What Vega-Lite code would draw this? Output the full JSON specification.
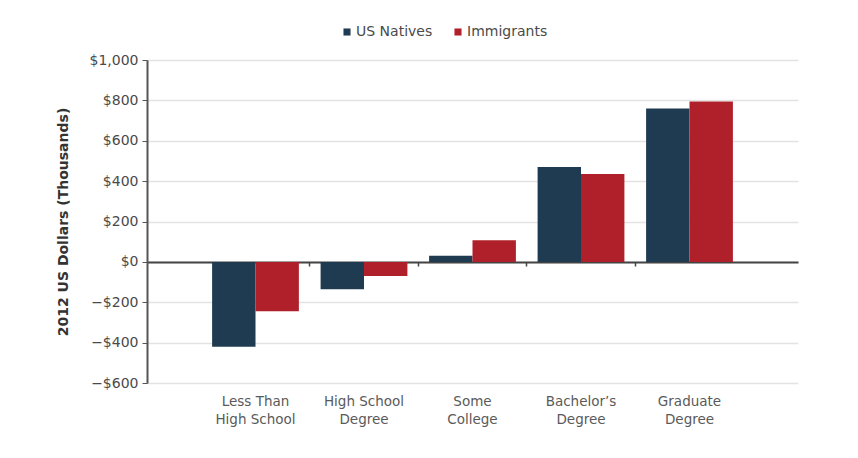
{
  "$schema": "https://vega.github.io/schema/vega-lite/v6.json",
  "autosize": {"type": "none"},
  "width": 651,
  "height": 323,
  "padding": {"left": 147, "top": 60, "right": 60, "bottom": 75},
  "config": {
    "font": "DejaVu Sans",
    "view": {"stroke": null}
  },
  "data": {
    "values": [
      {"education": "Less Than\nHigh School", "group": "US Natives", "value": -420},
      {"education": "Less Than\nHigh School", "group": "Immigrants", "value": -245},
      {"education": "High School\nDegree", "group": "US Natives", "value": -135},
      {"education": "High School\nDegree", "group": "Immigrants", "value": -70},
      {"education": "Some\nCollege", "group": "US Natives", "value": 30},
      {"education": "Some\nCollege", "group": "Immigrants", "value": 107},
      {"education": "Bachelor’s\nDegree", "group": "US Natives", "value": 470},
      {"education": "Bachelor’s\nDegree", "group": "Immigrants", "value": 435},
      {"education": "Graduate\nDegree", "group": "US Natives", "value": 760},
      {"education": "Graduate\nDegree", "group": "Immigrants", "value": 795}
    ]
  },
  "mark": {"type": "bar"},
  "encoding": {
    "x": {
      "field": "education",
      "type": "nominal",
      "sort": null,
      "scale": {"paddingInner": 0, "paddingOuter": 0.5},
      "axis": {
        "title": null,
        "labelAngle": 0,
        "labelExpr": "split(datum.label, '\\n')",
        "labelLineHeight": 18,
        "labelFontSize": 13.5,
        "labelColor": "#5a5a5a",
        "labelBaseline": "top",
        "offset": -121,
        "labelPadding": 128,
        "bandPosition": 1,
        "tickExtra": false,
        "tickSize": 4,
        "tickColor": "#444",
        "tickWidth": 1.5,
        "tickOpacity": {"condition": {"test": "datum.value === 'Graduate\\nDegree'", "value": 0}, "value": 1},
        "domainColor": "#444",
        "domainWidth": 2,
        "grid": false
      }
    },
    "xOffset": {
      "field": "group",
      "type": "nominal",
      "sort": ["US Natives", "Immigrants"],
      "scale": {"paddingInner": 0, "paddingOuter": 0.25}
    },
    "y": {
      "field": "value",
      "type": "quantitative",
      "scale": {"domain": [-600, 1000], "nice": false},
      "axis": {
        "title": "2012 US Dollars (Thousands)",
        "titleFontSize": 14,
        "titleFontWeight": "bold",
        "titleColor": "#333",
        "titlePadding": 19,
        "values": [-600, -400, -200, 0, 200, 400, 600, 800, 1000],
        "labelExpr": "datum.value < 0 ? '−$' + format(-datum.value, ',') : '$' + format(datum.value, ',')",
        "labelFontSize": 14,
        "labelColor": "#4a4a4a",
        "labelPadding": 4,
        "tickSize": 5,
        "tickColor": "#555",
        "domainColor": "#555",
        "domainWidth": 2,
        "gridColor": "#e3e3e3",
        "gridWidth": 1.5
      }
    },
    "color": {
      "field": "group",
      "type": "nominal",
      "sort": ["US Natives", "Immigrants"],
      "scale": {"domain": ["US Natives", "Immigrants"], "range": ["#1f3b52", "#b0202a"]},
      "legend": {
        "title": null,
        "orient": "none",
        "direction": "horizontal",
        "legendX": 193,
        "legendY": -35,
        "symbolType": "square",
        "symbolSize": 50,
        "symbolStrokeWidth": 0,
        "labelFontSize": 14,
        "labelColor": "#4a4a4a",
        "labelOffset": 2,
        "columnPadding": 18
      }
    }
  }
}
